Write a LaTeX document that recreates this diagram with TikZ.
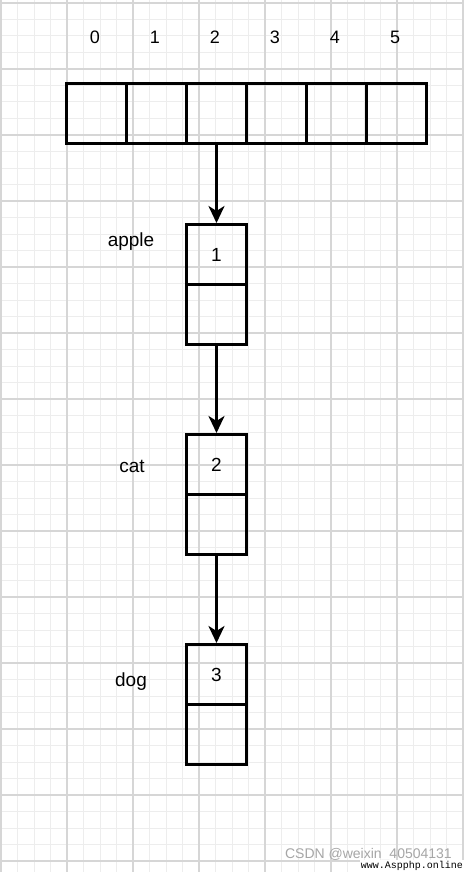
\documentclass[tikz,border=0pt]{standalone}
\usepackage{fontspec}
\setmainfont{Liberation Sans}
\newfontfamily\wmfont{Liberation Mono}
\usetikzlibrary{arrows.meta}
\definecolor{gmajor}{HTML}{D6D6D6}
\definecolor{gminor}{HTML}{EDEDED}
\begin{document}
\begin{tikzpicture}[x=1pt,y=-1pt,
  cell/.style={draw=black,line width=3pt,minimum width=60pt,minimum height=60pt,inner sep=0pt,anchor=north west,font=\fontsize{19}{21}\selectfont},
  lbl/.style={font=\fontsize{19}{21}\selectfont,inner sep=0pt},
  idx/.style={font=\fontsize{18}{20}\selectfont,inner sep=0pt},
  link/.style={line width=3pt,-{Stealth[length=17pt,width=16pt,inset=5pt]}}]
\useasboundingbox (0,0) rectangle (464,872);
\fill[white] (0,0) rectangle (464,872);
% grid
\foreach \i in {0,...,28} {
  \draw[gminor,line width=1pt] ({1+16.5*\i},0) -- ({1+16.5*\i},872);
}
\foreach \j in {0,...,53} {
  \draw[gminor,line width=1pt] (0,{3+16.5*\j}) -- (464,{3+16.5*\j});
}
\foreach \i in {0,...,7} {
  \draw[gmajor,line width=2pt] ({1+66*\i},0) -- ({1+66*\i},872);
}
\foreach \j in {0,...,13} {
  \draw[gmajor,line width=2pt] (0,{3+66*\j}) -- (464,{3+66*\j});
}
% array
\foreach \k in {0,...,5} {
  \node[cell] (a\k) at ({65+60*\k},82) {};
  \node[idx] (i\k) at ({95+60*\k},37) {\k};
}
% list nodes
\node[cell] (n1) at (185,223) {1};
\node[cell] (p1) at (185,283) {};
\node[cell] (n2) at (185,433) {2};
\node[cell] (p2) at (185,493) {};
\node[cell] (n3) at (185,643) {3};
\node[cell] (p3) at (185,703) {};
\node[lbl] (w1) at (131,242) {apple};
\node[lbl] (w2) at (132,466) {cat};
\node[lbl] (w3) at (131,682) {dog};
% links
\draw[link] (a2.south) -- (n1.north);
\draw[link] (p1.south) -- (n2.north);
\draw[link] (p2.south) -- (n3.north);
% watermark
\node[font=\fontsize{14}{16}\selectfont,text=gray!70,inner sep=0pt,anchor=south east] (wm1) at (452,861) {CSDN @weixin\_40504131};
\node[font=\wmfont\fontsize{10}{11}\selectfont,fill=white,text=black,inner sep=1pt,anchor=south east] (wm2) at (464,872) {www.Aspphp.online};
\end{tikzpicture}
\end{document}
